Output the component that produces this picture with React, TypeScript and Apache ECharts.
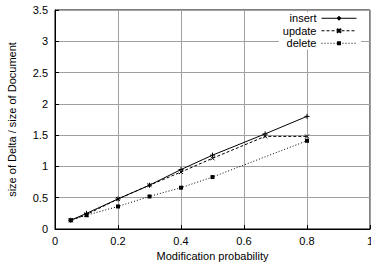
import React, { useEffect, useRef } from "react";
import * as echarts from "echarts";

const xInsert = [0.05, 0.1, 0.2, 0.3, 0.4, 0.5, 0.667, 0.8];
const yInsert = [0.14, 0.25, 0.48, 0.7, 0.95, 1.18, 1.52, 1.8];
const xUpdate = [0.05, 0.1, 0.2, 0.3, 0.4, 0.5, 0.667, 0.8];
const yUpdate = [0.14, 0.23, 0.48, 0.7, 0.91, 1.13, 1.48, 1.48];
const xDelete = [0.05, 0.1, 0.2, 0.3, 0.4, 0.5, 0.8];
const yDelete = [0.14, 0.22, 0.36, 0.52, 0.66, 0.83, 1.41];
const seriesNames = ["insert", "update", "delete"];

const pair = (xs: number[], ys: number[]) => xs.map((x, i) => [x, ys[i]]);

const FONT = "Liberation Sans, Arial, Helvetica, sans-serif";

export default function App() {
  const ref = useRef<HTMLDivElement>(null);
  useEffect(() => {
    if (!ref.current) return;
    const chart = echarts.init(ref.current, undefined, { renderer: "svg" });
    const axisCommon = {
      axisLine: { show: true, onZero: false, lineStyle: { color: "#000", width: 1 } },
      axisTick: { show: true, inside: true, length: 4, lineStyle: { color: "#000" } },
      splitLine: { show: true, lineStyle: { color: "#a0a0a0", width: 1 } },
      axisLabel: { color: "#000", fontSize: 11, fontFamily: FONT },
      nameTextStyle: { color: "#000", fontSize: 11, fontFamily: FONT },
    };
    chart.setOption({
      animation: false,
      backgroundColor: "#fff",
      grid: {
        left: 55,
        right: 1,
        top: 10,
        bottom: 39,
        show: true,
        borderColor: "#000",
        borderWidth: 1,
        containLabel: false,
        outerBoundsMode: "none",
      },
      xAxis: {
        type: "value",
        min: 0,
        max: 1,
        interval: 0.2,
        name: "Modification probability",
        nameLocation: "middle",
        nameGap: 21,
        ...axisCommon,
        axisLabel: { ...axisCommon.axisLabel, margin: 6, hideOverlap: false },
      },
      yAxis: {
        type: "value",
        min: 0,
        max: 3.5,
        interval: 0.5,
        name: "size of Delta / size of Document",
        nameLocation: "middle",
        nameGap: 38,
        ...axisCommon,
        axisLabel: { ...axisCommon.axisLabel, margin: 7 },
      },
      legend: {
        orient: "vertical",
        right: 10,
        top: 12,
        align: "right",
        itemWidth: 35,
        itemHeight: 5,
        itemGap: 0,
        padding: [0, 4, 0, 4],
        backgroundColor: "#fff",
        lineStyle: { width: 1 },
        textStyle: { color: "#000", fontSize: 11, lineHeight: 12.5, fontFamily: FONT, padding: [0, 0, 0, 0] },
        data: seriesNames,
      },
      series: [
        {
          name: seriesNames[0],
          type: "line",
          data: pair(xInsert, yInsert),
          symbol: "path://M0,4H8M4,0V8",
          symbolSize: 5,
          showAllSymbol: true,
          lineStyle: { color: "#000", width: 1, type: "solid" },
          itemStyle: { color: "#000", borderColor: "#000", borderWidth: 1 },
        },
        {
          name: seriesNames[1],
          type: "line",
          data: pair(xUpdate, yUpdate),
          symbol: "path://M0,0L8,8M8,0L0,8",
          symbolSize: 4,
          showAllSymbol: true,
          lineStyle: { color: "#000", width: 1, type: [3, 2] },
          itemStyle: { color: "#000", borderColor: "#000", borderWidth: 1 },
        },
        {
          name: seriesNames[2],
          type: "line",
          data: pair(xDelete, yDelete),
          symbol: "rect",
          symbolSize: 4,
          showAllSymbol: true,
          lineStyle: { color: "#000", width: 1, type: [1, 2] },
          itemStyle: { color: "#000", borderColor: "#000", borderWidth: 0 },
        },
      ],
    });
    return () => chart.dispose();
  }, []);
  return <div ref={ref} style={{ width: 371, height: 268, position: "absolute", left: 0, top: 0 }} />;
}
